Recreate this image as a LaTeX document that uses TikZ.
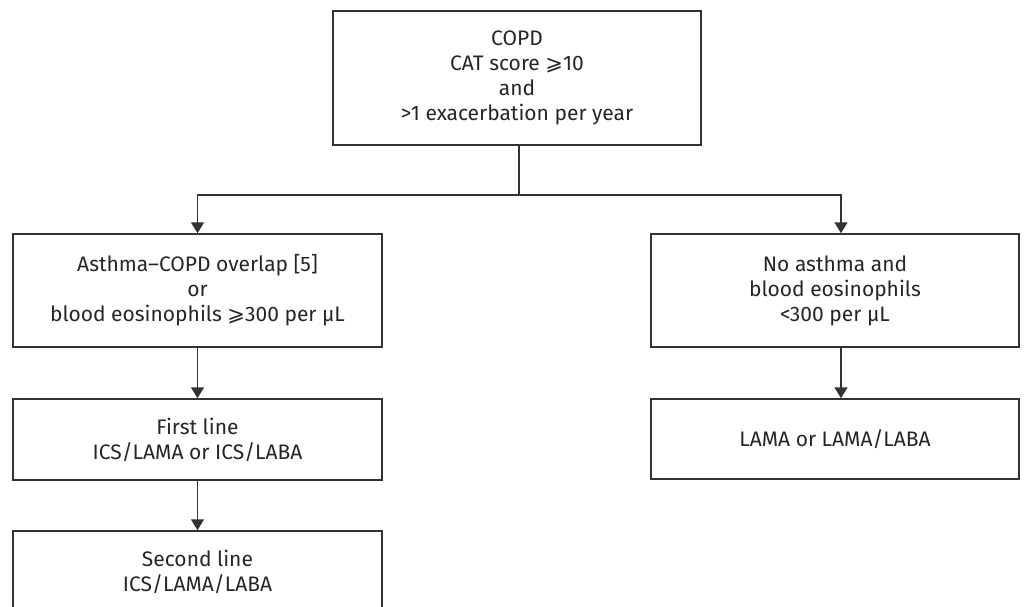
\documentclass[tikz,border=0pt]{standalone}
\usepackage{fontspec}
\setmainfont{Fira Sans}[Scale=1]
\newfontfamily\symfont{DejaVu Sans}
\usetikzlibrary{arrows.meta,calc}
\newcommand{\geqs}{{\symfont ⩾}}
\tikzset{
  box/.style={draw=black!80, line width=1.5pt, align=center, inner sep=0pt,
    font=\fontsize{21}{25}\selectfont, text=black!85},
  arr/.style={draw=black!80, line width=1.5pt, -{Triangle[length=11pt,width=13pt]}},
  ln/.style={draw=black!80, line width=1.5pt}
}
\begin{document}
\begin{tikzpicture}[x=1pt,y=-1pt]
\useasboundingbox (0,0) rectangle (1025,607);
\node[box, minimum width=368pt, minimum height=134pt] (top) at (517,78)
  {COPD\\CAT score \geqs10\\and\\>1 exacerbation per year};
\node[box, minimum width=369pt, minimum height=113pt] (l1) at (197.5,290.5)
  {Asthma--COPD overlap [5]\\or\\blood eosinophils \geqs300 per µL};
\node[box, minimum width=368pt, minimum height=113pt] (r1) at (835,290.5)
  {No asthma and\\blood eosinophils\\<300 per µL};
\node[box, minimum width=369pt, minimum height=81pt] (l2) at (197.5,439.5)
  {First line\\ICS/LAMA or ICS/LABA};
\node[box, minimum width=368pt, minimum height=80pt] (r2) at (835,439)
  {LAMA or LAMA/LABA};
\node[box, minimum width=369pt, minimum height=82pt] (l3) at (197.5,572)
  {Second line\\ICS/LAMA/LABA};
\coordinate (split) at ($(top.south)+(2,49)$);
\draw[ln] ([xshift=2pt]top.south) -- (split);
\draw[arr] (split) -| (l1.north);
\draw[arr] (split) -| ([xshift=6pt]r1.north);
\draw[arr] (l1) -- (l2);
\draw[arr] (l2) -- (l3);
\draw[arr] ([xshift=6pt]r1.south) -- ([xshift=6pt]r2.north);
\end{tikzpicture}
\end{document}
